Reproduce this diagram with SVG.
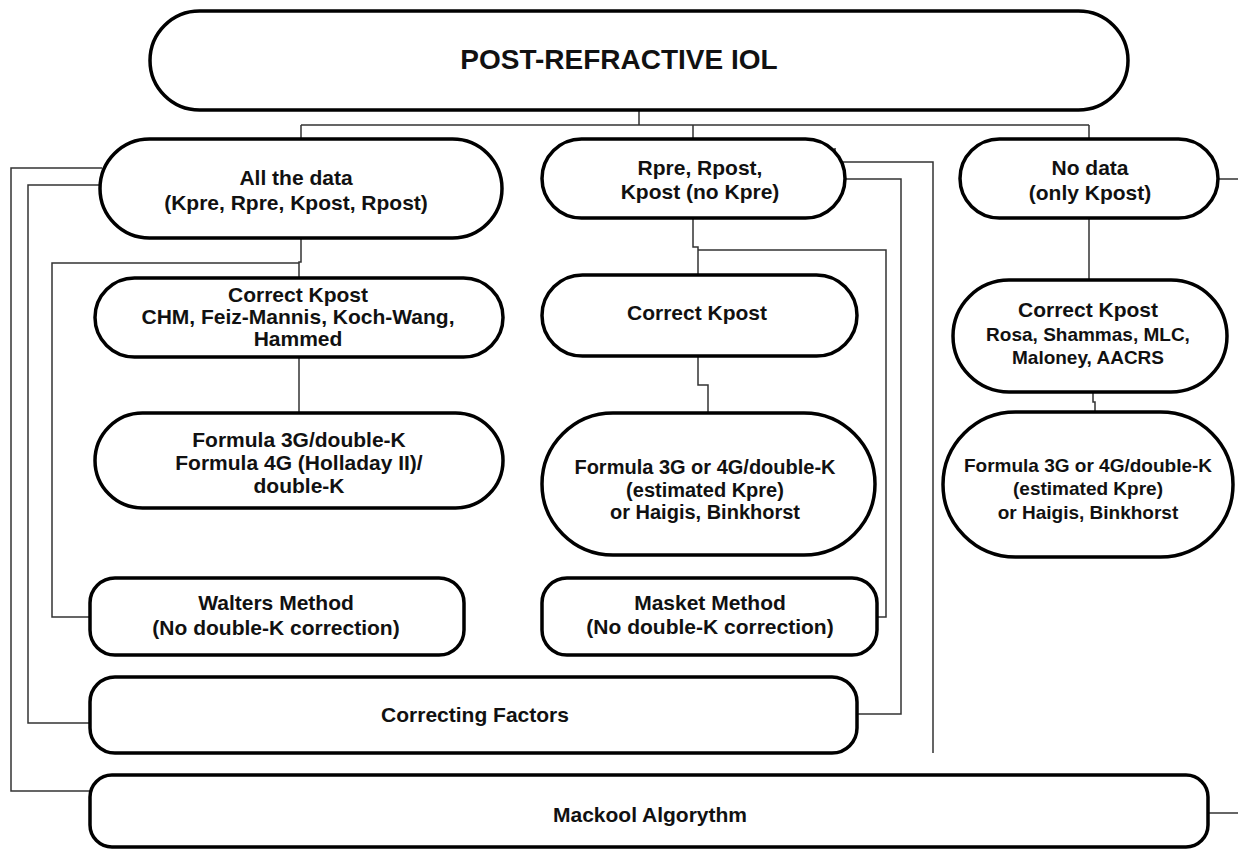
<svg xmlns="http://www.w3.org/2000/svg" width="1238" height="849" viewBox="0 0 1238 849">
<style>
.box{fill:#fff;stroke:#000;stroke-width:3.5}
.c{fill:none;stroke:#333;stroke-width:1.5}
text{font-family:"Liberation Sans",Arial,sans-serif;font-weight:bold;fill:#111;text-anchor:middle}
.t{font-size:21px}
.s{font-size:19px}
.m{font-size:20px}
.h{font-size:28px}
</style>
<rect width="1238" height="849" fill="#fff"/>
<g id="connectors">
<path class="c" d="M639,110 V125 M301,125 H1089 M301,125 V139 M693,125 V139 M1089,125 V139"/>
<path class="c" d="M301,238 V262 H299 V278 M299,263 H52 V617 H90"/>
<path class="c" d="M102,168 H11 V791 H90 M101,185 H28 V723 H90"/>
<path class="c" d="M299,357 V413"/>
<path class="c" d="M693,218 V247 H698 V275 M698,250 H886 V617 H877"/>
<path class="c" d="M698,356 V385 H708 V413"/>
<path class="c" d="M835,148 V162 H933 V753 M845,179 H901 V714 H857"/>
<path class="c" d="M1089,218 V280 M1218,179 H1238"/>
<path class="c" d="M1093,392 V402 H1095 V412"/>
<path class="c" d="M1208,813 H1238"/>
</g>
<g id="n-title"><rect class="box" x="150" y="11" width="978" height="99" rx="49.5"/><text class="h" x="619" y="69">POST-REFRACTIVE IOL</text></g>
<g id="n-alldata"><rect class="box" x="100" y="139" width="402" height="99" rx="49.5"/><text class="t" x="296" y="185">All the data</text><text class="t" x="296" y="210">(Kpre, Rpre, Kpost, Rpost)</text></g>
<g id="n-rpre"><rect class="box" x="542" y="139" width="303" height="79" rx="39.5"/><text class="t" x="700" y="175">Rpre, Rpost,</text><text class="t" x="700" y="199">Kpost (no Kpre)</text></g>
<g id="n-nodata"><rect class="box" x="960" y="139" width="258" height="79" rx="39.5"/><text class="t" x="1090" y="175">No data</text><text class="t" x="1090" y="200">(only Kpost)</text></g>
<g id="n-ck1"><rect class="box" x="95" y="278" width="408" height="79" rx="39.5"/><text class="t" x="298" y="302">Correct Kpost</text><text class="t" x="298" y="324">CHM, Feiz-Mannis, Koch-Wang,</text><text class="t" x="298" y="346">Hammed</text></g>
<g id="n-ck2"><rect class="box" x="542" y="275" width="315" height="81" rx="40.5"/><text class="t" x="697" y="320">Correct Kpost</text></g>
<g id="n-ck3"><rect class="box" x="953" y="280" width="274" height="112" rx="56"/><text class="t" x="1088" y="317">Correct Kpost</text><text class="s" x="1088" y="341">Rosa, Shammas, MLC,</text><text class="s" x="1088" y="364">Maloney, AACRS</text></g>
<g id="n-f1"><rect class="box" x="95" y="413" width="408" height="95" rx="47.5"/><text class="t" x="299" y="447">Formula 3G/double-K</text><text class="t" x="299" y="470">Formula 4G (Holladay II)/</text><text class="t" x="299" y="493">double-K</text></g>
<g id="n-f2"><rect class="box" x="542" y="413" width="333" height="142" rx="71"/><text class="m" x="705" y="474">Formula 3G or 4G/double-K</text><text class="m" x="705" y="497">(estimated Kpre)</text><text class="m" x="705" y="519">or Haigis, Binkhorst</text></g>
<g id="n-f3"><rect class="box" x="943" y="412" width="290" height="145" rx="72.5"/><text class="s" x="1088" y="472">Formula 3G or 4G/double-K</text><text class="s" x="1088" y="495">(estimated Kpre)</text><text class="s" x="1088" y="519">or Haigis, Binkhorst</text></g>
<g id="n-walters"><rect class="box" x="90" y="578" width="374" height="77" rx="25"/><text class="t" x="276" y="610">Walters Method</text><text class="t" x="276" y="635">(No double-K correction)</text></g>
<g id="n-masket"><rect class="box" x="542" y="578" width="335" height="77" rx="25"/><text class="t" x="710" y="610">Masket Method</text><text class="t" x="710" y="634">(No double-K correction)</text></g>
<g id="n-cf"><rect class="box" x="90" y="677" width="767" height="76" rx="25"/><text class="t" x="475" y="722">Correcting Factors</text></g>
<g id="n-mackool"><rect class="box" x="90" y="775" width="1118" height="72" rx="22"/><text class="t" x="650" y="822">Mackool Algorythm</text></g>
</svg>
